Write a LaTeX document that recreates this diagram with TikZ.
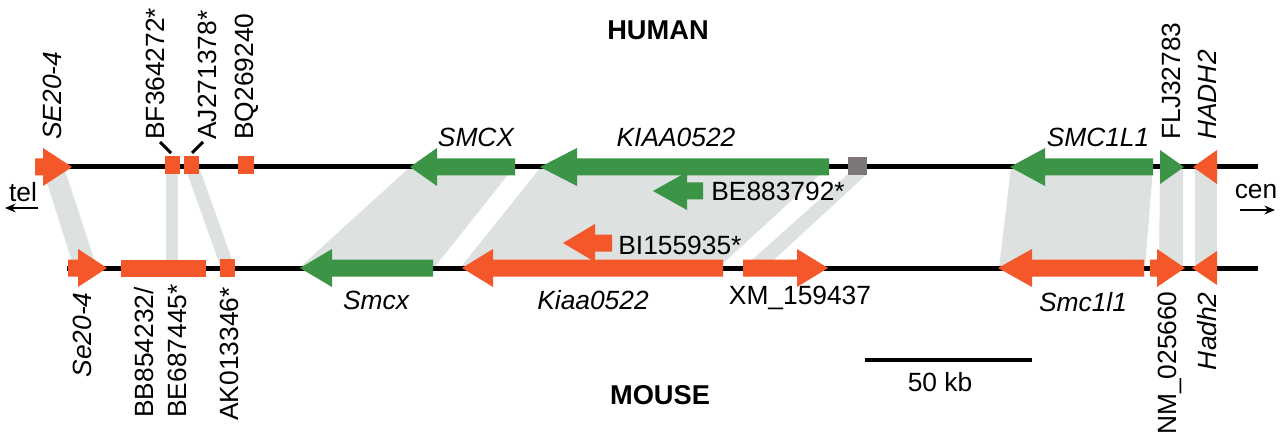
\documentclass[tikz,border=0pt]{standalone}
\usepackage{fontspec}
\setmainfont{Liberation Sans}
\usetikzlibrary{arrows.meta}

\definecolor{geneorange}{HTML}{F4572A}
\definecolor{genegreen}{HTML}{3C9447}
\definecolor{bandgray}{HTML}{DDE1DF}
\definecolor{clonegray}{HTML}{7D7779}

\newcommand{\lblsize}{\fontsize{15}{18.8}\selectfont}
% gene arrow: colour, tail, head base, tip, y
\newcommand{\genearrow}[5]{%
  \fill[#1] (#2,#5-8.5) -- (#3,#5-8.5) -- (#3,#5-19) -- (#4,#5)
    -- (#3,#5+19) -- (#3,#5+8.5) -- (#2,#5+8.5) -- cycle;}
% gene triangle: colour, base, tip, y
\newcommand{\genetri}[4]{%
  \fill[#1] (#2,#4-17) -- (#3,#4) -- (#2,#4+17) -- cycle;}

\begin{document}
\begin{tikzpicture}[x=0.02cm,y=-0.02cm,
  lbl/.style={inner sep=0pt,font=\lblsize},
  genelbl/.style={lbl,font=\lblsize\itshape},
  uplbl/.style={rotate=90,anchor=west},
  downlbl/.style={rotate=90,anchor=east},
  species/.style={inner sep=0pt,font=\fontsize{15.5}{18}\selectfont\bfseries},
  band/.style={fill=bandgray},
  chrom/.style={line width=0.1cm},
  tick/.style={line width=0.06cm},
  dir/.style={line width=0.04cm,-{Stealth[length=6pt,width=5pt]}}]

  \useasboundingbox (0,0) rectangle (1280,442);

  % synteny bands
  \fill[band] (42,167) -- (64,167) -- (97,268) -- (74,268) -- cycle;
  \fill[band] (166,167) -- (178,167) -- (178,268) -- (166,268) -- cycle;
  \fill[band] (185,167) -- (199,167) -- (235,268) -- (221,268) -- cycle;
  \fill[band] (410,167) -- (514,167) -- (434,268) -- (299,268) -- cycle;
  \fill[band] (541,167) -- (828,167) -- (718,268) -- (460,268) -- cycle;
  \fill[band] (848,174) -- (867,174) -- (765,268) -- (743,268) -- cycle;
  \fill[band] (1011,167) -- (1153,167) -- (1145,268) -- (999,268) -- cycle;
  \fill[band] (1160,167) -- (1183,167) -- (1183,268) -- (1159,268) -- cycle;
  \fill[band] (1195,167) -- (1217,167) -- (1217,268) -- (1195,268) -- cycle;

  % chromosomes
  \coordinate (humL) at (35,167);
  \coordinate (humR) at (1258,167);
  \coordinate (musL) at (67,268);
  \coordinate (musR) at (1258,268);
  \draw[chrom] (humL) -- (humR);
  \draw[chrom] (musL) -- (musR);

  % human genes
  \genearrow{geneorange}{35}{43}{72}{167}
  \fill[geneorange] (165,156) rectangle (180,174);
  \fill[geneorange] (184,156) rectangle (199,174);
  \fill[geneorange] (238,156) rectangle (254,174);
  \genearrow{genegreen}{515}{437}{410}{167}
  \genearrow{genegreen}{829}{577}{540}{167}
  \fill[clonegray] (848,157) rectangle (867,175);
  \genearrow{genegreen}{703}{687}{653}{191}
  \genearrow{genegreen}{1153}{1045}{1010}{167}
  \genetri{genegreen}{1160}{1184}{167}
  \genetri{geneorange}{1217}{1193}{167}

  % mouse genes
  \genearrow{geneorange}{68}{78}{107}{268}
  \fill[geneorange] (121,260) rectangle (206,277);
  \fill[geneorange] (220,259) rectangle (235,277);
  \genearrow{genegreen}{433}{332}{300}{268}
  \genearrow{geneorange}{723}{493}{462}{268}
  \genearrow{geneorange}{612}{595}{563}{243}
  \genearrow{geneorange}{743}{797}{828}{268}
  \genearrow{geneorange}{1144}{1032}{998}{268}
  \genearrow{geneorange}{1150}{1157}{1185}{268}
  \genetri{geneorange}{1217}{1192}{268}

  % human labels
  \node[species] (human) at (658,30) {HUMAN};
  \node[genelbl,uplbl] (se20h) at (52,140) {SE20-4};
  \node[lbl,uplbl] (bf364) at (155,140) {BF364272*};
  \node[lbl,uplbl] (aj271) at (207,140) {AJ271378*};
  \node[lbl,uplbl] (bq269) at (247,140) {BQ269240};
  \node[genelbl] (smcxh) at (476,137) {SMCX};
  \node[genelbl] (kiaah) at (676,137) {KIAA0522};
  \node[lbl,anchor=west] (be883) at (711,191) {BE883792*};
  \node[genelbl] (smch) at (1098,137) {SMC1L1};
  \node[lbl,uplbl] (flj) at (1171,140) {FLJ32783};
  \node[genelbl,uplbl] (hadhh) at (1207,140) {HADH2};

  % ticks from clone labels
  \coordinate (bfT) at (160,142);
  \coordinate (bfB) at (171,153);
  \coordinate (ajT) at (203,142);
  \coordinate (ajB) at (192,153);
  \draw[tick] (bfT) -- (bfB);
  \draw[tick] (ajT) -- (ajB);

  % mouse labels
  \node[species] (mouse) at (660,395) {MOUSE};
  \node[genelbl,downlbl] (se20m) at (82,292) {Se20-4};
  \node[lbl,rotate=90,anchor=west,align=left] (bb854) at (161,418) {BB854232/\\BE687445*};
  \node[lbl,downlbl] (ak013) at (229,287) {AK013346*};
  \node[genelbl] (smcxm) at (376,300) {Smcx};
  \node[genelbl] (kiaam) at (593,300) {Kiaa0522};
  \node[lbl,anchor=west] (bi155) at (618,245) {BI155935*};
  \node[lbl] (xm159) at (800,298) {XM\_159437};
  \node[genelbl] (smcm) at (1083,302) {Smc1l1};
  \node[lbl,downlbl] (nm025) at (1170,291) {NM\_025660};
  \node[genelbl,downlbl] (hadhm) at (1207,292) {Hadh2};

  % orientation
  \node[lbl] (tel) at (23,192) {tel};
  \coordinate (telA) at (38,208);
  \coordinate (telB) at (5,208);
  \draw[dir] (telA) -- (telB);
  \node[lbl] (cen) at (1256,192) {cen};
  \coordinate (cenA) at (1240,210);
  \coordinate (cenB) at (1275,210);
  \draw[dir] (cenA) -- (cenB);

  % scale bar
  \coordinate (sbL) at (865,360);
  \coordinate (sbR) at (1032,360);
  \draw[line width=0.08cm] (sbL) -- (sbR);
  \node[lbl] (kb) at (940,382) {50 kb};

\end{tikzpicture}
\end{document}
